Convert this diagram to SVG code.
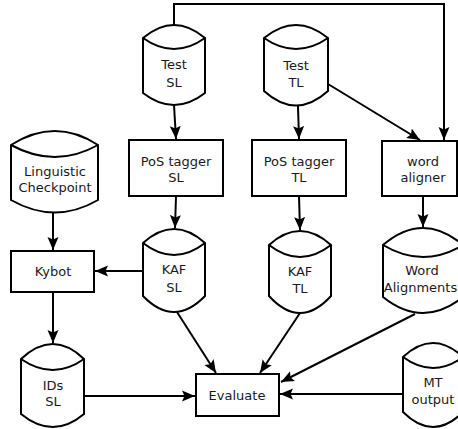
<svg xmlns="http://www.w3.org/2000/svg" width="458" height="429" viewBox="0 0 458 429">
<style>
.s{fill:#fff;stroke:#000;stroke-width:2;stroke-linejoin:miter}
.l{fill:none;stroke:#000;stroke-width:2}
.c{fill:none;stroke:#000;stroke-width:2;marker-end:url(#a)}
text{font-family:"DejaVu Sans",sans-serif;font-size:13px;fill:#1a1a1a;text-anchor:middle}
</style>
<defs>
<marker id="a" markerUnits="userSpaceOnUse" markerWidth="14" markerHeight="14" viewBox="0 0 14 14" refX="13" refY="7" orient="auto">
<path d="M0,1.5 L13,7 L0,12.5 L2.5,7 z" fill="#000"/>
</marker>
</defs>
<rect width="458" height="429" fill="#fff"/>
<g id="connectors">
<path class="c" d="M174,25 V4 H444 V140"/>
<path class="c" d="M174,105 L176,139"/>
<path class="c" d="M298,106 L299,139"/>
<path class="c" d="M328,84 L420,140"/>
<path class="c" d="M176,196 L175,228"/>
<path class="c" d="M299,196 L300,230"/>
<path class="c" d="M423,196 L423,227"/>
<path class="c" d="M53,212 L53,250"/>
<path class="c" d="M143,271 L95,271"/>
<path class="c" d="M53,292 L53,343"/>
<path class="c" d="M84,396 L195,396"/>
<path class="c" d="M177,312 L216,373"/>
<path class="c" d="M300,313 L260,373"/>
<path class="c" d="M415,314 L281,382"/>
<path class="c" d="M403,394 L280,394"/>
</g>
<g id="test-sl">
<path class="s" d="M143,38 Q174,12 205,38 V93 Q174,117 143,93 Z"/>
<path class="l" d="M143,38 Q174,60 205,38"/>
<text x="174" y="69">Test</text><text x="174" y="87">SL</text>
</g>
<g id="test-tl">
<path class="s" d="M264,38 Q296,12 328,38 V91 Q296,120 264,91 Z"/>
<path class="l" d="M264,38 Q296,60 328,38"/>
<text x="296" y="70">Test</text><text x="296" y="87">TL</text>
</g>
<g id="linguistic-checkpoint">
<path class="s" d="M11,145 Q55,117 98,145 V200 Q55,225 11,200 Z"/>
<path class="l" d="M11,145 Q55,169 98,145"/>
<text x="55" y="176">Linguistic</text><text x="55" y="192">Checkpoint</text>
</g>
<g id="pos-tagger-sl">
<rect class="s" x="129" y="140" width="94" height="56"/>
<text x="176" y="166">PoS tagger</text><text x="176" y="182">SL</text>
</g>
<g id="pos-tagger-tl">
<rect class="s" x="252" y="140" width="94" height="56"/>
<text x="299" y="166">PoS tagger</text><text x="299" y="182">TL</text>
</g>
<g id="word-aligner">
<rect class="s" x="382" y="141" width="75" height="55"/>
<text x="423" y="166">word</text><text x="423" y="182">aligner</text>
</g>
<g id="kybot">
<rect class="s" x="11" y="251" width="83" height="41"/>
<text x="53" y="276">Kybot</text>
</g>
<g id="kaf-sl">
<path class="s" d="M143,243 Q174,215 205,243 V296 Q174,328 143,296 Z"/>
<path class="l" d="M143,243 Q174,267 205,243"/>
<text x="174" y="274">KAF</text><text x="174" y="292">SL</text>
</g>
<g id="kaf-tl">
<path class="s" d="M269,245 Q300,217 331,245 V296 Q300,330 269,296 Z"/>
<path class="l" d="M269,245 Q300,269 331,245"/>
<text x="300" y="276">KAF</text><text x="300" y="293">TL</text>
</g>
<g id="word-alignments">
<path class="s" d="M383,245 Q423,211 463,245 V297 Q423,329 383,297 Z"/>
<path class="l" d="M383,245 Q423,269 463,245"/>
<text x="422" y="275">Word</text><text x="420.5" y="292">Alignments</text>
</g>
<g id="ids-sl">
<path class="s" d="M21,359 Q53,329 84,359 V414 Q53,440 21,414 Z"/>
<path class="l" d="M21,359 Q53,381 84,359"/>
<text x="53" y="390">IDs</text><text x="53" y="406">SL</text>
</g>
<g id="evaluate">
<rect class="s" x="196" y="374" width="83" height="42"/>
<text x="237" y="400">Evaluate</text>
</g>
<g id="mt-output">
<path class="s" d="M403,357 Q433,329 463,357 V412 Q433,442 403,412 Z"/>
<path class="l" d="M403,357 Q433,379 463,357"/>
<text x="433" y="387">MT</text><text x="433" y="404">output</text>
</g>
</svg>
